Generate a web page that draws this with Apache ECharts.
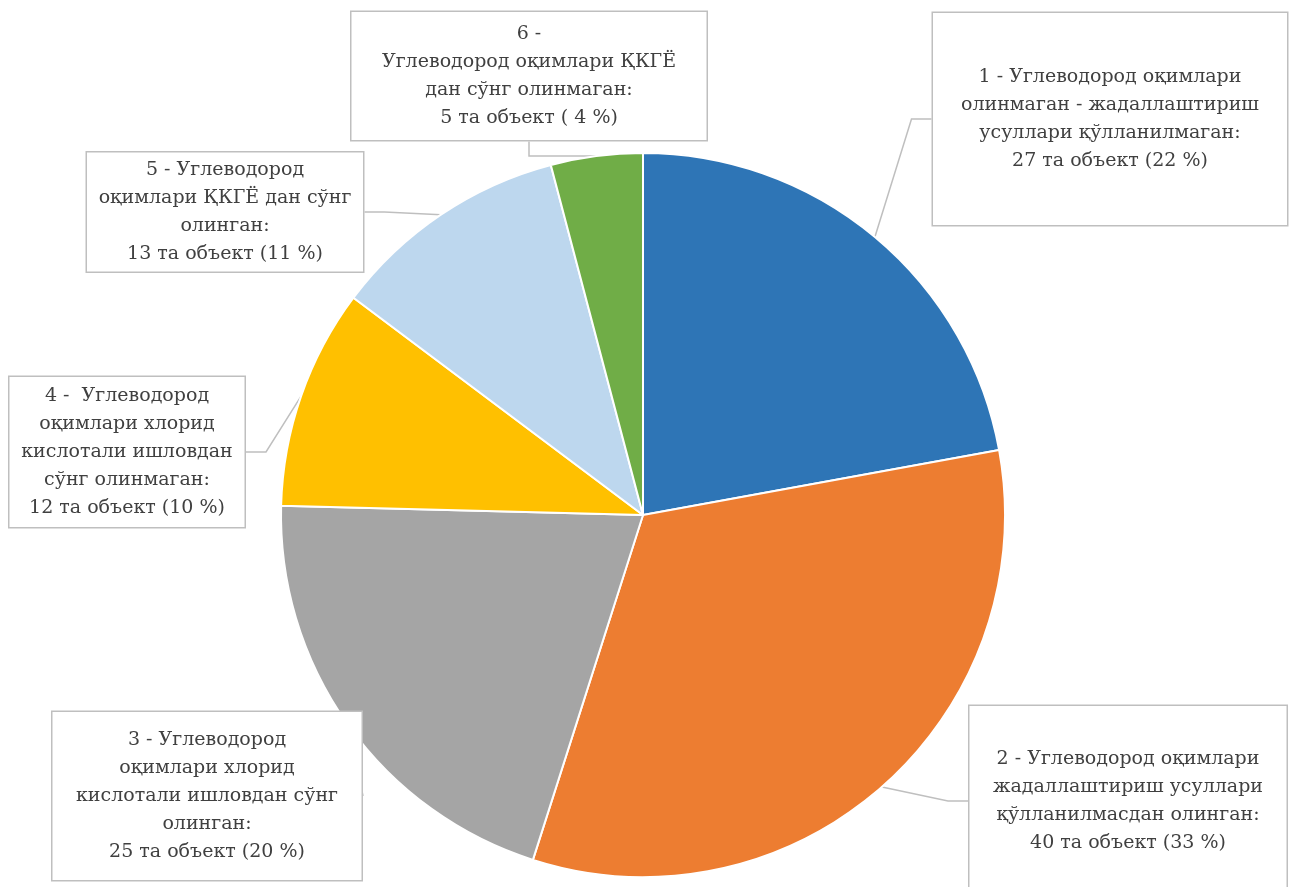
<!DOCTYPE html>
<html>
<head>
<meta charset="utf-8">
<script src="https://cdn.jsdelivr.net/npm/echarts@6/dist/echarts.min.js"></script>
<style>html,body{margin:0;padding:0;background:#fff;}#c{width:1294px;height:887px;}</style>
</head>
<body>
<div id="c"></div>
<script>
const categories = [
  "1 - Углеводород оқимлари\nолинмаган - жадаллаштириш\nусуллари қўлланилмаган:",
  "2 - Углеводород оқимлари\nжадаллаштириш усуллари\nқўлланилмасдан олинган:",
  "3 - Углеводород\nоқимлари хлорид\nкислотали ишловдан сўнг\nолинган:",
  "4 -  Углеводород\nоқимлари хлорид\nкислотали ишловдан\nсўнг олинмаган:",
  "5 - Углеводород\nоқимлари ҚКГЁ дан сўнг\nолинган:",
  "6 -\nУглеводород оқимлари ҚКГЁ\nдан сўнг олинмаган:"
];
const values = [27, 40, 25, 12, 13, 5];
const percentLabels = ["22 %", "33 %", "20 %", "10 %", "11 %", " 4 %"];
const colors = ["#2E75B6", "#ED7D31", "#A5A5A5", "#FFC000", "#BDD7EE", "#70AD47"];

// callout box layout: center x, center y, box width, box height
const boxes = [
  {x: 1110, y: 119, w: 354, h: 212},
  {x: 1128, y: 801, w: 317, h: 190},
  {x: 207,  y: 796, w: 309, h: 168},
  {x: 127,  y: 452, w: 235, h: 150},
  {x: 225,  y: 212, w: 276, h: 119},
  {x: 529,  y: 76,  w: 355, h: 128}
];
const LH = 28;

const data = categories.map((c, i) => {
  const nLines = c.split("\n").length + 1;
  const b = boxes[i];
  const vpad = Math.max(3, (b.h - nLines * LH) / 2);
  return {
    name: c,
    value: values[i],
    itemStyle: {color: colors[i]},
    label: {
      width: b.w - 8,
      padding: [vpad + 3, 4, Math.max(0, vpad - 3), 4]
    }
  };
});

const chart = echarts.init(document.getElementById('c'), null, {renderer: 'canvas'});
chart.setOption({
  backgroundColor: '#ffffff',
  animation: false,
  series: [{
    type: 'pie',
    center: [643, 515],
    radius: 362,
    startAngle: 90,
    clockwise: true,
    data: data,
    itemStyle: {borderColor: '#ffffff', borderWidth: 2},
    label: {
      show: true,
      position: 'outside',
      formatter: p => p.name + "\n" + p.value + " та объект (" + percentLabels[p.dataIndex] + ")",
      fontFamily: 'DejaVu Serif',
      fontSize: 19,
      lineHeight: LH,
      color: '#404040',
      align: 'center',
      backgroundColor: '#ffffff',
      borderColor: '#bfbfbf',
      borderWidth: 1.5
    },
    labelLine: {
      show: true,
      length: 20,
      length2: 20,
      lineStyle: {color: '#bfbfbf', width: 1.5}
    },
    labelLayout: function (params) {
      const b = boxes[params.dataIndex];
      return {x: b.x, y: b.y, align: 'center', verticalAlign: 'middle'};
    },
    emphasis: {disabled: true}
  }]
});
</script>
</body>
</html>
